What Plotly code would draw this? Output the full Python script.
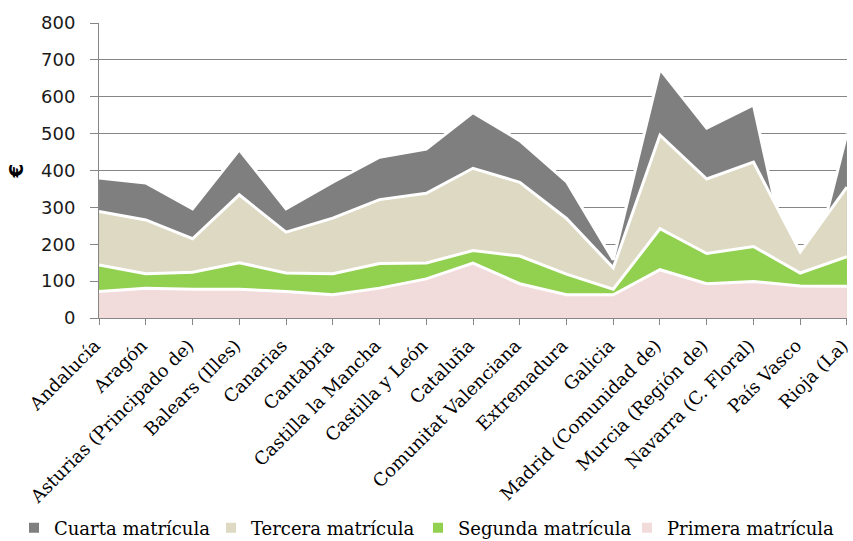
import plotly.graph_objects as go

regions = ["Andalucía", "Aragón", "Asturias (Principado de)", "Balears (Illes)", "Canarias",
           "Cantabria", "Castilla la Mancha", "Castilla y León", "Cataluña",
           "Comunitat Valenciana", "Extremadura", "Galicia", "Madrid (Comunidad de)",
           "Murcia (Región de)", "Navarra (C. Floral)", "País Vasco", "Rioja (La)"]

primera = [72, 81, 78, 78, 72, 63, 81, 106, 149, 93, 63, 63, 131, 93, 99, 87, 86]
segunda = [72, 39, 46, 72, 50, 57, 67, 43, 34, 75, 56, 15, 111, 82, 95, 35, 80]
tercera = [145, 146, 91, 184, 111, 151, 173, 189, 223, 200, 151, 58, 254, 202, 229, 57, 189]
cuarta = [91, 100, 81, 122, 63, 97, 115, 120, 151, 113, 100, 22, 179, 138, 155, None, 145]

y_ticks = [0, 100, 200, 300, 400, 500, 600, 700, 800]

series_names = ["Cuarta matrícula", "Tercera matrícula", "Segunda matrícula", "Primera matrícula"]
colors = {"Cuarta matrícula": "#7F7F7F", "Tercera matrícula": "#DDD9C3",
          "Segunda matrícula": "#92D050", "Primera matrícula": "#F2DCDB"}
legend_ids = ["legend", "legend2", "legend3", "legend4"]
legend_x = [14, 211, 418, 627]  # px positions of legend entries

# cumulative tops (Excel-like stacking: an empty cell drops that series' top to zero)
def cum(*lists):
    out = []
    for vals in zip(*lists):
        if any(v is None for v in vals):
            out.append(0)
        else:
            out.append(sum(vals))
    return out

tops = {
    "Primera matrícula": cum(primera),
    "Segunda matrícula": cum(primera, segunda),
    "Tercera matrícula": cum(primera, segunda, tercera),
    "Cuarta matrícula": cum(primera, segunda, tercera, cuarta),
}

x_idx = list(range(len(regions)))
W, H = 853, 541

fig = go.Figure()
for name in series_names:
    fig.add_trace(go.Scatter(
        x=x_idx, y=tops[name], mode="lines", fill="tozeroy",
        fillcolor=colors[name], line=dict(color="white", width=3),
        name=name, showlegend=False, hoverinfo="skip"))
for name, lid in zip(series_names, legend_ids):
    fig.add_trace(go.Scatter(
        x=[None], y=[None], mode="markers", name=name, legend=lid,
        marker=dict(symbol="square", size=10, color=colors[name]),
        showlegend=True))

legend_common = dict(orientation="h", xref="container", yref="container",
                     xanchor="left", y=0.024, yanchor="middle",
                     font=dict(family="DejaVu Serif", size=18, color="#000000"),
                     itemwidth=30, bgcolor="rgba(0,0,0,0)")
legends = {lid: dict(legend_common, x=px / W) for lid, px in zip(legend_ids, legend_x)}

fig.update_layout(
    width=W, height=H,
    margin=dict(l=99, r=6, t=23, b=223, autoexpand=False),
    paper_bgcolor="white", plot_bgcolor="white",
    showlegend=True,
    **legends,
    xaxis=dict(range=[-0.001, len(regions) - 1 + 0.001], tickmode="array", tickvals=x_idx,
               ticktext=regions, tickangle=-45, automargin=False,
               ticklabeloverflow="allow", ticklabelstandoff=3, ticklabelshift=-4,
               tickfont=dict(family="DejaVu Serif", size=18, color="#000000"),
               showgrid=False, showline=True, linecolor="#868686", linewidth=1,
               ticks="outside", ticklen=6, tickcolor="#868686", zeroline=False),
    yaxis=dict(range=[0, 800], tickmode="array", tickvals=y_ticks, automargin=False,
               tickfont=dict(family="DejaVu Sans", size=18, color="#1a1a1a"),
               showgrid=True, gridcolor="#868686", gridwidth=1,
               showline=True, linecolor="#868686", linewidth=1,
               ticks="outside", ticklen=8, tickcolor="#868686", zeroline=False,
               ticklabelstandoff=11,
               title=dict(text="<b>€</b>", font=dict(family="DejaVu Sans", size=20, color="#000000"),
                          standoff=12)),
)

fig.write_html("out.html", config={"displayModeBar": False},
               post_script="document.body.style.margin='0';document.body.style.overflow='hidden';")
